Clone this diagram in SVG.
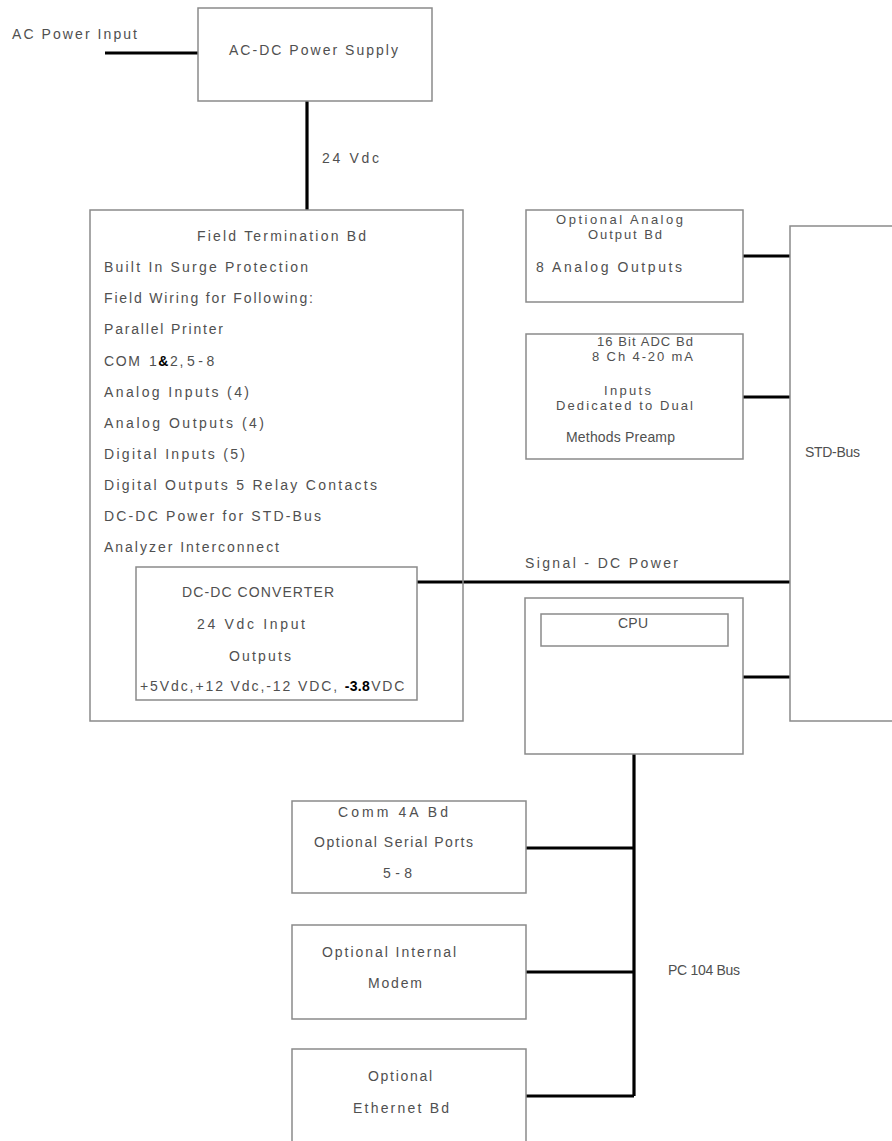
<svg xmlns="http://www.w3.org/2000/svg" width="892" height="1141" viewBox="0 0 892 1141">
<style>
.box{fill:none;stroke:#8a8a8a;stroke-width:1.5}
.wire{fill:none;stroke:#000;stroke-width:3.2}
text{font-family:"Liberation Sans",Arial,sans-serif;font-size:14px;fill:#505050}
.s{font-size:13px}
.b{font-weight:bold;fill:#000}
</style>
<rect width="892" height="1141" fill="#fff"/>
<g id="connectors">
<path class="wire" d="M105 53H198"/>
<path class="wire" d="M307 101V210"/>
<path class="wire" d="M417 582H790"/>
<path class="wire" d="M743 256H790"/>
<path class="wire" d="M743 397H790"/>
<path class="wire" d="M743 677H790"/>
<path class="wire" d="M634 754V1096"/>
<path class="wire" d="M526 848H634"/>
<path class="wire" d="M526 972H634"/>
<path class="wire" d="M526 1096H634"/>
<text x="12" y="39" textLength="125" lengthAdjust="spacing">AC Power Input</text>
<text x="322" y="163" textLength="57" lengthAdjust="spacing">24 Vdc</text>
<text x="525" y="568" textLength="153" lengthAdjust="spacing">Signal - DC Power</text>
<text x="668" y="975" textLength="72" lengthAdjust="spacing">PC 104 Bus</text>
</g>
<g id="acdc">
<rect class="box" x="198" y="8" width="234" height="93"/>
<text x="229" y="55" textLength="169" lengthAdjust="spacing">AC-DC Power Supply</text>
</g>
<g id="field">
<rect class="box" x="90" y="210" width="373" height="511"/>
<text x="197" y="241" textLength="169" lengthAdjust="spacing">Field Termination Bd</text>
<text x="104" y="272" textLength="204" lengthAdjust="spacing">Built In Surge Protection</text>
<text x="104" y="303" textLength="209" lengthAdjust="spacing">Field Wiring for Following:</text>
<text x="104" y="334" textLength="119" lengthAdjust="spacing">Parallel Printer</text>
<text x="104" y="366" letter-spacing="1.6">COM <tspan dx="2">1</tspan><tspan class="b">&amp;</tspan>2,<tspan dx="2">5</tspan><tspan dx="2">-</tspan><tspan dx="2">8</tspan></text>
<text x="104" y="397" textLength="145" lengthAdjust="spacing">Analog Inputs (4)</text>
<text x="104" y="428" textLength="160" lengthAdjust="spacing">Analog Outputs (4)</text>
<text x="104" y="459" textLength="141" lengthAdjust="spacing">Digital Inputs (5)</text>
<text x="104" y="490" textLength="273" lengthAdjust="spacing">Digital Outputs 5 Relay Contacts</text>
<text x="104" y="521" textLength="217" lengthAdjust="spacing">DC-DC Power for STD-Bus</text>
<text x="104" y="552" textLength="175" lengthAdjust="spacing">Analyzer Interconnect</text>
</g>
<g id="dcdc">
<rect class="box" x="136" y="567" width="281" height="133"/>
<text x="182" y="597" textLength="152" lengthAdjust="spacing">DC-DC CONVERTER</text>
<text x="197" y="629" textLength="108" lengthAdjust="spacing">24 Vdc Input</text>
<text x="229" y="661" textLength="62" lengthAdjust="spacing">Outputs</text>
<text x="140" y="691" letter-spacing="1.9">+5Vdc,+12 Vdc,-12 VDC, <tspan class="b" letter-spacing="0.3">-3.8</tspan><tspan dx="1">VDC</tspan></text>
</g>
<g id="analogout">
<rect class="box" x="526" y="210" width="217" height="92"/>
<text class="s" x="556" y="224" textLength="127" lengthAdjust="spacing">Optional Analog</text>
<text class="s" x="588" y="239" textLength="74" lengthAdjust="spacing">Output Bd</text>
<text x="536" y="272" textLength="146" lengthAdjust="spacing">8 Analog Outputs</text>
</g>
<g id="adc">
<rect class="box" x="526" y="334" width="217" height="125"/>
<text class="s" x="597" y="346" textLength="96" lengthAdjust="spacing">16 Bit ADC Bd</text>
<text class="s" x="592" y="361" textLength="101" lengthAdjust="spacing">8 Ch 4-20 mA</text>
<text class="s" x="604" y="395" textLength="47" lengthAdjust="spacing">Inputs</text>
<text class="s" x="556" y="410" textLength="137" lengthAdjust="spacing">Dedicated to Dual</text>
<text x="566" y="442" textLength="109" lengthAdjust="spacing">Methods Preamp</text>
</g>
<g id="stdbus">
<rect class="box" x="790" y="226" width="120" height="495"/>
<text x="805" y="457" textLength="55" lengthAdjust="spacing">STD-Bus</text>
</g>
<g id="cpu">
<rect class="box" x="525" y="598" width="218" height="156"/>
<rect class="box" x="541" y="614" width="187" height="32"/>
<text x="618" y="628" textLength="30" lengthAdjust="spacing">CPU</text>
</g>
<g id="comm">
<rect class="box" x="292" y="801" width="234" height="92"/>
<text x="338" y="817" textLength="110" lengthAdjust="spacing">Comm 4A Bd</text>
<text x="314" y="847" textLength="159" lengthAdjust="spacing">Optional Serial Ports</text>
<text x="383" y="878" textLength="29" lengthAdjust="spacing">5-8</text>
</g>
<g id="modem">
<rect class="box" x="292" y="925" width="234" height="94"/>
<text x="322" y="957" textLength="134" lengthAdjust="spacing">Optional Internal</text>
<text x="368" y="988" textLength="54" lengthAdjust="spacing">Modem</text>
</g>
<g id="ethernet">
<rect class="box" x="292" y="1049" width="234" height="110"/>
<text x="368" y="1081" textLength="64" lengthAdjust="spacing">Optional</text>
<text x="353" y="1113" textLength="96" lengthAdjust="spacing">Ethernet Bd</text>
</g>
</svg>
